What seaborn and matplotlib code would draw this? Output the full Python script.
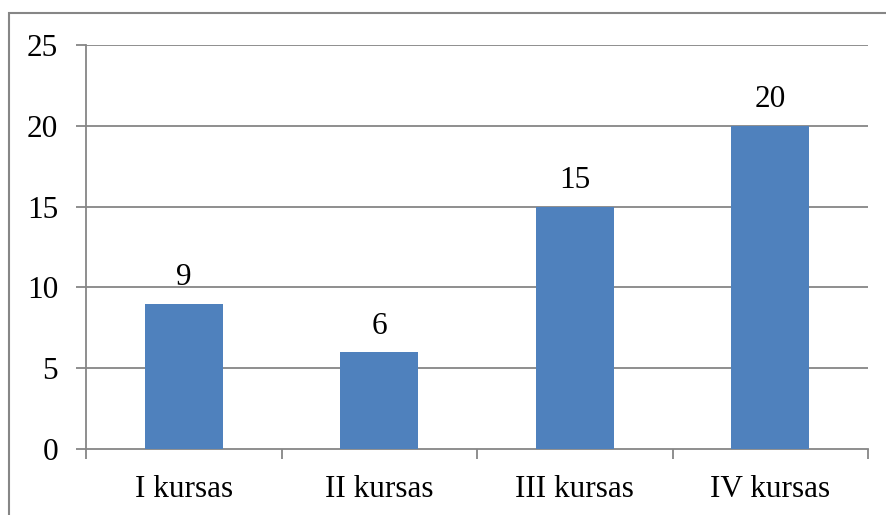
import pandas as pd
import matplotlib.pyplot as plt
import seaborn as sns
from matplotlib.patches import Rectangle

# Data
categories = ["I kursas", "II kursas", "III kursas", "IV kursas"]
values = [9, 6, 15, 20]
y_ticks = [0, 5, 10, 15, 20, 25]

df = pd.DataFrame({"Kursas": categories, "Skaicius": values})

sns.set_style("white")
plt.rcParams['font.family'] = ['Liberation Serif', 'DejaVu Serif']

grey = "#868686"
fs = 22.5
fig = plt.figure(figsize=(8.86, 5.15), dpi=100)
ax = fig.add_axes([86/886, 1 - 449/515, (868 - 86)/886, (449 - 45)/515])

sns.barplot(data=df, x="Kursas", y="Skaicius", color="#4F81BD", width=0.4,
            saturation=1, linewidth=0, ax=ax, zorder=3)

# data labels
for i, v in enumerate(values):
    ax.text(i, v + 0.7, str(v), ha="center", va="bottom", fontsize=fs, color="black")

ax.set_ylim(0, 25)
ax.set_xlim(-0.5, len(categories) - 0.5)
ax.set_yticks(y_ticks)
ax.set_yticklabels([str(t) for t in y_ticks], fontsize=fs)
ax.set_xlabel("")
ax.set_ylabel("")

# gridlines
for t in y_ticks[1:]:
    ax.axhline(t, color=grey, lw=1.3, zorder=1)

ax.tick_params(axis="y", length=7, width=1.3, color=grey, pad=13, left=True,
               labelcolor="black")
ax.set_xticks(range(len(categories)))
ax.set_xticklabels(categories, fontsize=fs)
ax.tick_params(axis="x", which="major", length=0, pad=19, labelcolor="black")
ax.set_xticks([i - 0.5 for i in range(len(categories) + 1)], minor=True)
ax.tick_params(axis="x", which="minor", length=7, width=1.3, color=grey, bottom=True)

for s in ["top", "right"]:
    ax.spines[s].set_visible(False)
for s in ["left", "bottom"]:
    ax.spines[s].set_color(grey)
    ax.spines[s].set_linewidth(1.3)

# outer chart border (cropped on right and bottom)
fig.patches.append(Rectangle((9/886, -0.1), 1.2, 1 - 13/515 + 0.1,
                             transform=fig.transFigure, fill=False,
                             edgecolor=grey, lw=1.5))

fig.savefig("out.png", dpi=100)
